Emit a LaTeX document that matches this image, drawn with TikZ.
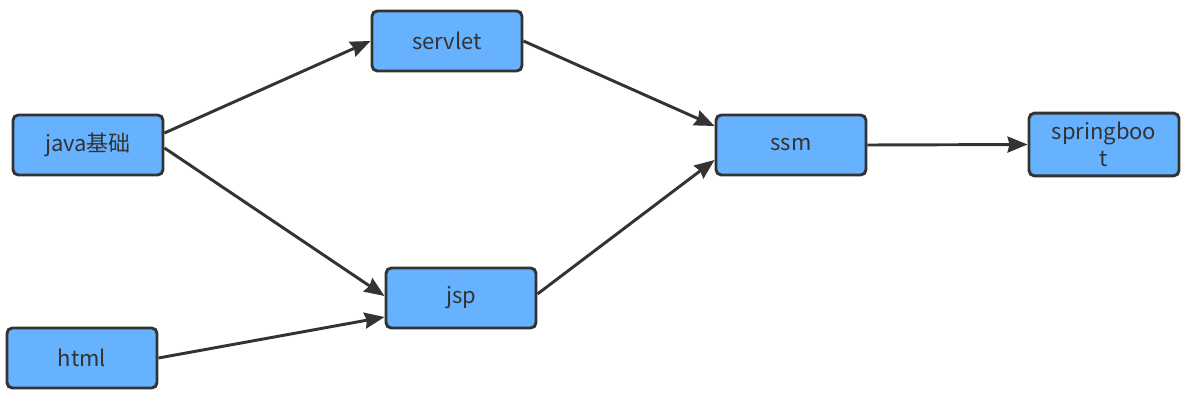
\documentclass[tikz,border=0pt]{standalone}
\usepackage{fontspec}
\setmainfont{Noto Sans CJK SC}
\usetikzlibrary{arrows.meta}
\definecolor{boxfill}{RGB}{102,178,255}
\definecolor{ink}{RGB}{51,51,51}
\begin{document}
\begin{tikzpicture}[x=0.75pt,y=-0.75pt,
  box/.style={draw=ink,fill=boxfill,line width=2.2pt,rounded corners=4pt,
    minimum width=112.5pt,minimum height=45pt,inner sep=0pt,
    text=ink,font=\fontsize{16.5}{20}\selectfont,align=center},
  conn/.style={draw=ink,line width=2.2pt,-{Stealth[length=15pt,width=12pt,inset=1.5pt]}}]
\useasboundingbox (0,0) rectangle (1189,403);
\fill[white] (0,0) rectangle (1189,403);
\node[box] (servlet) at (447,41) {servlet};
\node[box] (java) at (88,145) {java基础};
\node[box] (ssm) at (791,145) {ssm};
\node[box,minimum height=47pt] (spring) at (1104,144.5) {springboo\\t};
\node[box] (jsp) at (461,298) {jsp};
\node[box] (html) at (82,358) {html};
\draw[conn] ([yshift=9pt]java.east) -- (servlet.west);
\draw[conn] ([yshift=-2.25pt]java.east) -- ([yshift=1.5pt]jsp.west);
\draw[conn] (html.east) -- ([yshift=-14.25pt]jsp.west);
\draw[conn] (servlet.east) -- ([yshift=14.25pt]ssm.west);
\draw[conn] ([yshift=3pt]jsp.east) -- ([yshift=-11.25pt]ssm.west);
\draw[conn] (ssm.east) -- (spring.west);
\end{tikzpicture}
\end{document}
